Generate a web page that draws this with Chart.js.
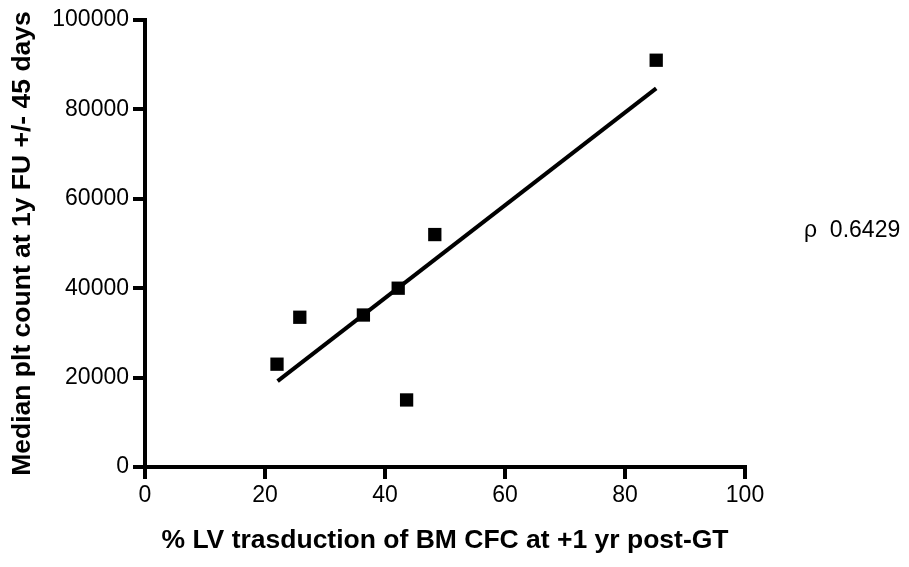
<!DOCTYPE html>
<html>
<head>
<meta charset="utf-8">
<script src="https://cdn.jsdelivr.net/npm/chart.js@4"></script>
<style>
  html, body { margin: 0; padding: 0; background: #fff; }
  #wrap { width: 909px; height: 567px; position: relative; }
</style>
</head>
<body>
<div id="wrap"><canvas id="c"></canvas></div>
<script>
// ---- data ----
const xValues = [22, 25.8, 36.4, 42.2, 43.6, 48.3, 85.2];
const yValues = [23000, 33500, 34000, 40000, 15000, 52000, 91000];
const fitX = [22.1, 85.2];
const fitY = [19200, 84700];
const xTicks = [0, 20, 40, 60, 80, 100];
const yTicks = [0, 20000, 40000, 60000, 80000, 100000];
const xTitle = '% LV trasduction of BM CFC at +1 yr post-GT';
const yTitle = 'Median plt count at 1y FU +/- 45 days';
const rhoLabel = 'ρ  0.6429';

const FONT = '"Liberation Sans", Arial, Helvetica, sans-serif';

const scatterPts = xValues.map((x, i) => ({ x: x, y: yValues[i] }));
const fitPts = fitX.map((x, i) => ({ x: x, y: fitY[i] }));

const rhoPlugin = {
  id: 'rho',
  afterDraw(chart) {
    const ctx = chart.ctx;
    const a = chart.chartArea;
    ctx.save();
    ctx.fillStyle = '#000';
    ctx.font = '23px ' + FONT;
    ctx.textAlign = 'left';
    ctx.textBaseline = 'alphabetic';
    ctx.fillText(rhoLabel, a.right + 59, a.top + 217);
    ctx.restore();
  }
};

new Chart(document.getElementById('c'), {
  type: 'scatter',
  data: {
    datasets: [
      {
        type: 'line',
        data: fitPts,
        borderColor: '#000',
        borderWidth: 4,
        pointRadius: 0,
        fill: false,
        order: 2
      },
      {
        type: 'scatter',
        data: scatterPts,
        pointStyle: 'rect',
        pointRadius: 9.4,
        pointBackgroundColor: '#000',
        pointBorderColor: '#000',
        pointBorderWidth: 0,
        order: 1
      }
    ]
  },
  options: {
    responsive: true,
    maintainAspectRatio: false,
    animation: false,
    events: [],
    layout: { padding: { left: 0, top: 20, right: 164, bottom: 5 } },
    plugins: { legend: { display: false }, tooltip: { enabled: false } },
    scales: {
      x: {
        type: 'linear',
        min: 0, max: 100,
        afterBuildTicks(scale) { scale.ticks = xTicks.map(v => ({ value: v })); },
        afterFit(scale) { scale.height = 95; },
        border: { display: true, color: '#000', width: 4 },
        grid: { drawOnChartArea: false, drawTicks: true, tickLength: 12, color: '#000', lineWidth: 4 },
        ticks: { color: '#000', font: { family: FONT, size: 23 }, padding: 3, callback: v => String(v), maxRotation: 0 },
        title: { display: true, text: xTitle, color: '#000', font: { family: FONT, size: 26.5, weight: 'bold' }, padding: { top: 0, bottom: 5 } }
      },
      y: {
        type: 'linear',
        min: 0, max: 100000,
        afterBuildTicks(scale) { scale.ticks = yTicks.map(v => ({ value: v })); },
        afterFit(scale) { scale.width = 145; },
        border: { display: true, color: '#000', width: 4 },
        grid: { drawOnChartArea: false, drawTicks: true, tickLength: 12, color: '#000', lineWidth: 4 },
        ticks: { color: '#000', font: { family: FONT, size: 23 }, padding: 4, callback: v => String(v) },
        title: { display: true, text: yTitle, color: '#000', font: { family: FONT, size: 26.5, weight: 'bold' }, padding: { top: 7, bottom: 0 } }
      }
    }
  },
  plugins: [rhoPlugin]
});
</script>
</body>
</html>
